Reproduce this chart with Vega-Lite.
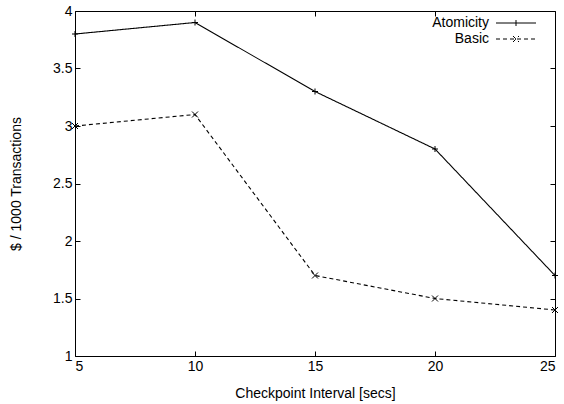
{
  "$schema": "https://vega.github.io/schema/vega-lite/v6.json",
  "width": 480,
  "height": 345,
  "autosize": {"type": "none"},
  "padding": {"left": 75, "top": 11, "right": 9, "bottom": 48},
  "background": "white",
  "data": {
    "values": [
      {"interval": 5, "cost": 3.8, "series": "Atomicity"},
      {"interval": 10, "cost": 3.9, "series": "Atomicity"},
      {"interval": 15, "cost": 3.3, "series": "Atomicity"},
      {"interval": 20, "cost": 2.8, "series": "Atomicity"},
      {"interval": 25, "cost": 1.7, "series": "Atomicity"},
      {"interval": 5, "cost": 3.0, "series": "Basic"},
      {"interval": 10, "cost": 3.1, "series": "Basic"},
      {"interval": 15, "cost": 1.7, "series": "Basic"},
      {"interval": 20, "cost": 1.5, "series": "Basic"},
      {"interval": 25, "cost": 1.4, "series": "Basic"}
    ]
  },
  "config": {
    "view": {"stroke": "#000000", "strokeWidth": 1},
    "font": "Liberation Sans",
    "axis": {
      "grid": false,
      "domain": false,
      "tickColor": "#000000",
      "tickSize": -5,
      "labelFont": "Liberation Sans",
      "labelFontSize": 14,
      "labelColor": "#000000",
      "titleFont": "Liberation Sans",
      "titleFontSize": 14,
      "titleFontWeight": "normal",
      "titleColor": "#000000"
    },
    "legend": {
      "labelFont": "Liberation Sans",
      "labelFontSize": 14,
      "labelColor": "#000000"
    }
  },
  "layer": [
    {
      "mark": {"type": "line", "color": "#000000", "strokeWidth": 1.1},
      "encoding": {
        "x": {
          "field": "interval",
          "type": "quantitative",
          "scale": {"domain": [5, 25], "nice": false, "zero": false},
          "axis": {
            "orient": "bottom",
            "values": [5, 10, 15, 20, 25],
            "labelPadding": 8,
            "title": "Checkpoint Interval [secs]",
            "titlePadding": 13
          }
        },
        "y": {
          "field": "cost",
          "type": "quantitative",
          "scale": {"domain": [1, 4], "nice": false, "zero": false},
          "axis": {
            "orient": "left",
            "values": [1, 1.5, 2, 2.5, 3, 3.5, 4],
            "format": "~g",
            "labelPadding": 8,
            "title": "$ / 1000 Transactions",
            "titlePadding": 29
          }
        },
        "strokeDash": {
          "field": "series",
          "type": "nominal",
          "scale": {"domain": ["Atomicity", "Basic"], "range": [[1, 0], [4, 3]]},
          "legend": {
            "title": null,
            "orient": "none",
            "legendX": 434,
            "legendY": 5,
            "padding": 0,
            "symbolSize": 100,
            "symbolStrokeColor": "#000000",
            "symbolStrokeWidth": 1,
            "labelAlign": "right",
            "labelOffset": -34,
            "encode": {
              "symbols": {
                "update": {
                  "shape": {"signal": "datum.value === 'Atomicity' ? 'M-4,0H4M0,-0.6V0.6' : 'M-4,0H4M-0.6,-0.6L0.6,0.6M-0.6,0.6L0.6,-0.6'"},
                  "stroke": {"value": "#000000"},
                  "strokeWidth": {"value": 1}
                }
              }
            }
          }
        }
      }
    },
    {
      "transform": [{"filter": "datum.series === 'Atomicity'"}],
      "mark": {"type": "point", "filled": false, "color": "#000000", "strokeWidth": 1, "size": 36, "opacity": 1, "shape": "M-1,0H1M0,-1V1"},
      "encoding": {
        "x": {
          "field": "interval",
          "type": "quantitative",
          "axis": {"orient": "top", "values": [5, 10, 15, 20, 25], "labels": false, "title": null}
        },
        "y": {
          "field": "cost",
          "type": "quantitative",
          "axis": {"orient": "right", "values": [1, 1.5, 2, 2.5, 3, 3.5, 4], "labels": false, "title": null}
        }
      }
    },
    {
      "transform": [{"filter": "datum.series === 'Basic'"}],
      "mark": {"type": "point", "filled": false, "color": "#000000", "strokeWidth": 1, "size": 36, "opacity": 1, "shape": "M-1,-1L1,1M-1,1L1,-1"},
      "encoding": {
        "x": {"field": "interval", "type": "quantitative", "axis": null},
        "y": {"field": "cost", "type": "quantitative", "axis": null}
      }
    }
  ],
  "resolve": {"axis": {"x": "independent", "y": "independent"}}
}
